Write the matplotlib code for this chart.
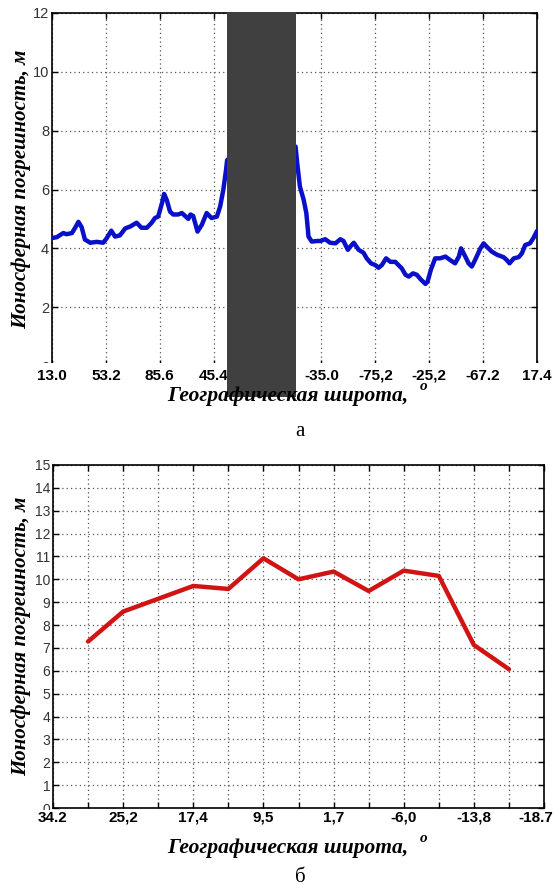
import matplotlib
matplotlib.use('Agg')
import matplotlib.pyplot as plt
from matplotlib.patches import Rectangle
from matplotlib.transforms import ScaledTranslation

# ---------------- data ----------------
# (a) top chart: position along the track (in tick-interval units) and ionospheric error, m
a_tick_labels = ['13.0', '53.2', '85.6', '45.4', '', '-35.0', '-75,2', '-25,2', '-67.2', '17.4']
a_x = [0.00, 0.09, 0.21, 0.27, 0.37, 0.43, 0.49, 0.55, 0.61, 0.71, 0.83, 0.95, 1.01, 1.10,
       1.17, 1.26, 1.36, 1.45, 1.57, 1.66, 1.76, 1.85, 1.91, 1.97, 2.04, 2.08, 2.13, 2.19,
       2.25, 2.34, 2.41, 2.47, 2.53, 2.57, 2.62, 2.70, 2.78, 2.87, 2.96, 3.06, 3.12, 3.18,
       3.23, 3.25, 3.90, 4.52, 4.55, 4.60, 4.67, 4.72, 4.76, 4.82, 4.92, 4.98, 5.07, 5.16,
       5.26, 5.35, 5.41, 5.49, 5.54, 5.60, 5.69, 5.78, 5.84, 5.92, 6.00, 6.06, 6.12, 6.20,
       6.28, 6.37, 6.43, 6.49, 6.56, 6.62, 6.70, 6.77, 6.85, 6.93, 6.97, 7.03, 7.11, 7.20,
       7.30, 7.39, 7.48, 7.55, 7.59, 7.67, 7.73, 7.79, 7.85, 7.95, 8.01, 8.07, 8.16, 8.26,
       8.38, 8.44, 8.49, 8.57, 8.66, 8.72, 8.78, 8.87, 8.94, 9.00]
a_y = [4.35, 4.38, 4.52, 4.48, 4.52, 4.70, 4.90, 4.72, 4.30, 4.19, 4.22, 4.19, 4.33, 4.60,
       4.40, 4.44, 4.68, 4.74, 4.87, 4.70, 4.70, 4.87, 5.03, 5.08, 5.53, 5.85, 5.64, 5.25,
       5.15, 5.15, 5.20, 5.10, 5.00, 5.15, 5.10, 4.57, 4.80, 5.20, 5.03, 5.08, 5.42, 6.00,
       6.67, 7.00, 7.80, 7.46, 6.90, 6.10, 5.65, 5.19, 4.40, 4.23, 4.25, 4.25, 4.31, 4.19,
       4.17, 4.31, 4.25, 3.95, 4.07, 4.19, 3.95, 3.85, 3.66, 3.49, 3.43, 3.34, 3.43, 3.66,
       3.54, 3.54, 3.43, 3.32, 3.10, 3.04, 3.15, 3.10, 2.93, 2.79, 2.87, 3.27, 3.66, 3.66,
       3.72, 3.60, 3.49, 3.72, 4.00, 3.72, 3.49, 3.38, 3.60, 4.00, 4.17, 4.05, 3.89, 3.78,
       3.70, 3.60, 3.49, 3.66, 3.70, 3.83, 4.11, 4.17, 4.37, 4.59]

# (б) bottom chart
b_tick_labels = ['34.2', '', '25,2', '', '17,4', '', '9,5', '', '1,7', '', '-6,0', '', '-13,8', '', '-18.7']
b_x = [1, 2, 3, 4, 5, 6, 7, 8, 9, 10, 11, 12, 13]
b_y = [7.28, 8.59, 9.15, 9.71, 9.58, 10.92, 10.00, 10.34, 9.49, 10.38, 10.15, 7.13, 6.07]

ylabel_text = 'Ионосферная погрешность, м'
xlabel_text = 'Географическая широта,'

# ---------------- layout helpers ----------------
W, H = 554, 890
fig = plt.figure(figsize=(W / 100, H / 100), dpi=100)
fig.patch.set_facecolor('white')


def fy(py):
    return 1 - py / H


SANS = ['Liberation Sans', 'DejaVu Sans']
SERIF = ['Liberation Serif', 'DejaVu Serif']


def make_panel(left, top, right, bottom, xlim, ylim, yticks, xticklabels,
               band_top, band_bot, data_x, data_y, color, ytick_size, last_shift):
    pos = [left / W, fy(bottom), (right - left) / W, (bottom - top) / H]
    ax = fig.add_axes(pos, zorder=0)
    ax.plot(data_x, data_y, color=color, lw=3.2, solid_joinstyle='round',
            solid_capstyle='round', zorder=3)
    ax.set_xlim(*xlim)
    ax.set_ylim(*ylim)
    ax.set_xticks(range(len(xticklabels)))
    ax.set_yticks(yticks)
    ax.set_yticklabels([str(v) for v in yticks], fontfamily=SANS,
                       fontsize=ytick_size, color='#333333')
    ax.grid(True, linestyle=(0, (1, 2.5)), color='#555555', lw=0.9)
    ax.tick_params(direction='in', top=True, right=True, length=4, width=1,
                   labelbottom=False, pad=2)
    for s in ax.spines.values():
        s.set_linewidth(1.2)
        s.set_color('black')
    # white band under the tick labels
    fig.add_artist(Rectangle((0, fy(band_bot)), 1, (band_bot - band_top) / H,
                             transform=fig.transFigure, facecolor='white',
                             edgecolor='none', zorder=1))
    # overlay axes carrying the bold x tick labels
    axl = fig.add_axes(pos, zorder=2)
    axl.patch.set_visible(False)
    for s in axl.spines.values():
        s.set_visible(False)
    axl.set_xlim(*xlim)
    axl.set_ylim(*ylim)
    axl.set_yticks([])
    axl.set_xticks(range(len(xticklabels)))
    axl.set_xticklabels(xticklabels, fontfamily=SANS, fontweight='bold', fontsize=11)
    axl.tick_params(axis='x', length=0, pad=2)
    if last_shift:
        lab = axl.get_xticklabels()[-1]
        lab.set_horizontalalignment('right')
        lab.set_transform(lab.get_transform() +
                          ScaledTranslation(last_shift / 100, 0, fig.dpi_scale_trans))
    return ax


# top panel (а)
make_panel(52, 13, 537, 366, (0, 9), (0, 12), list(range(0, 13, 2)), a_tick_labels,
           363, 382, a_x, a_y, '#0a10c8', 10.5, 0)
# redaction block
fig.add_artist(Rectangle((227 / W, fy(397)), (296 - 227) / W, (397 - 12) / H,
                         transform=fig.transFigure, facecolor='#404040',
                         edgecolor='none', zorder=3))

# bottom panel (б)
make_panel(53, 465, 544, 808, (0, 14), (0, 15), list(range(0, 16)), b_tick_labels,
           809.5, 830, b_x, b_y, '#d01414', 10, 9.5)

# axis labels and captions
for (yc, xl_y, o_y, cap_y, cap) in [((13 + 366) / 2, 396, 386, 431, 'а'),
                                     ((465 + 808) / 2, 848, 838, 878, 'б')]:
    fig.text(21 / W, fy(yc), ylabel_text, rotation=90, ha='center', va='center',
             fontfamily=SERIF, fontweight='bold', fontstyle='italic', fontsize=15,
             zorder=5)
    fig.text(288 / W, fy(xl_y), xlabel_text, ha='center', va='center',
             fontfamily=SERIF, fontweight='bold', fontstyle='italic', fontsize=15.5,
             zorder=5)
    fig.text(424 / W, fy(o_y), 'o', ha='center', va='center',
             fontfamily=SERIF, fontweight='bold', fontstyle='italic', fontsize=11,
             zorder=5)
    fig.text(300 / W, fy(cap_y), cap, ha='center', va='center',
             fontfamily=SERIF, fontsize=15, zorder=5)

fig.savefig('out.png', dpi=100, facecolor='white')
